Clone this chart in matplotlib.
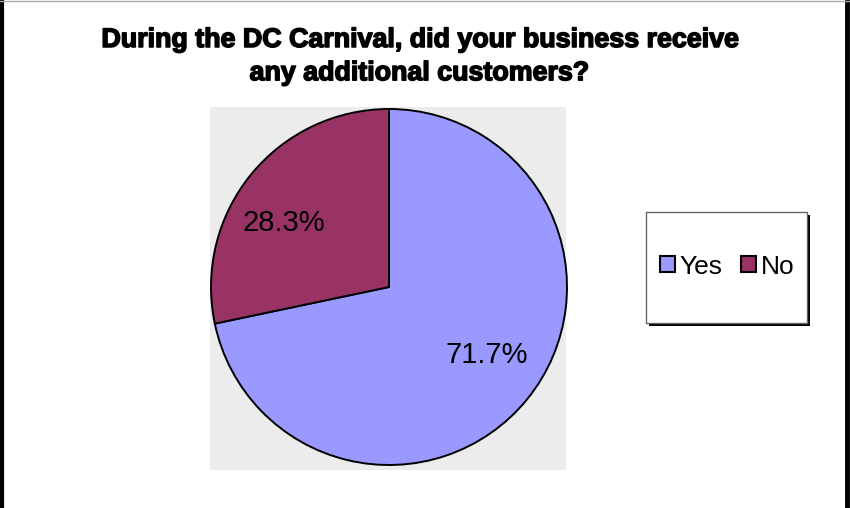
import matplotlib
matplotlib.use("Agg")
import numpy as np
import matplotlib.pyplot as plt
from matplotlib.patches import Rectangle, Patch
from matplotlib.lines import Line2D
import matplotlib.patheffects as pe

categories = ["Yes", "No"]
values = [71.7, 28.3]
colors = ["#9999FF", "#993366"]
title = "During the DC Carnival, did your business receive\nany additional customers?"

W, H = 850, 508
fig = plt.figure(figsize=(W / 100, H / 100), dpi=100)
fig.patch.set_facecolor("white")
plt.rcParams["font.family"] = ["Liberation Sans", "DejaVu Sans"]

def fx(px):
    return px / W

def fy(py):
    return 1 - py / H

# plot area (grey)
left, right, top, bottom = 210, 566, 107, 470
ax = fig.add_axes([fx(left), fy(bottom), (right - left) / W, (bottom - top) / H])
ax.set_facecolor("#ECECEC")
for s in ax.spines.values():
    s.set_visible(False)

cx, cy, r = 389, 287, 178
wedges, texts, autotexts = ax.pie(
    values, colors=colors, startangle=90, counterclock=False,
    autopct="%1.1f%%", pctdistance=0.68,
    wedgeprops=dict(edgecolor="black", linewidth=1.4),
    textprops=dict(fontsize=21, color="black"),
    frame=True,
)
# Excel-style label placement: slightly rotated from the wedge middle
for w, t in zip(wedges, autotexts):
    ang = np.deg2rad((w.theta1 + w.theta2) / 2 + 6)
    t.set_position((0.68 * np.cos(ang) - 0.02, 0.68 * np.sin(ang) - 0.01))
ax.set_aspect("auto")
ax.set_xlim(-(cx - left) / r, (right - cx) / r)
ax.set_ylim(-(bottom - cy) / r, (cy - top) / r)
ax.set_xticks([]); ax.set_yticks([])

# title
fig.text(fx(419), fy(27), title, ha="center", va="top", fontsize=19.3,
         fontweight="bold", linespacing=1.36,
         path_effects=[pe.withStroke(linewidth=1.1, foreground="black")])

# legend box with shadow
lx0, ly0, lx1, ly1 = 646, 212, 807, 323
fig.add_artist(Rectangle((fx(lx0 + 3), fy(ly1 + 3)), (lx1 - lx0) / W, (ly1 - ly0) / H,
                         transform=fig.transFigure, facecolor="black", edgecolor="none"))
fig.add_artist(Rectangle((fx(lx0), fy(ly1)), (lx1 - lx0) / W, (ly1 - ly0) / H,
                         transform=fig.transFigure, facecolor="white",
                         edgecolor="#666666", linewidth=1))
handles = [Patch(facecolor=c, edgecolor="black", linewidth=1.5) for c in colors]
fig.legend(handles, categories, loc="center",
           bbox_to_anchor=(fx((lx0 + lx1) / 2 + 1), fy((ly0 + ly1) / 2 - 1)),
           ncol=2, frameon=False, fontsize=19, handlelength=0.55, handleheight=0.55,
           handletextpad=0.2, columnspacing=0.7, borderpad=0)

# outer borders
fig.add_artist(Line2D([fx(2), fx(2)], [0, 1], transform=fig.transFigure,
                      color="black", linewidth=3))
fig.add_artist(Line2D([fx(846.5), fx(846.5)], [0, 1], transform=fig.transFigure,
                      color="black", linewidth=3.5))
fig.add_artist(Line2D([0, 1], [fy(0.5), fy(0.5)], transform=fig.transFigure,
                      color="#AAAAAA", linewidth=1))

fig.savefig("out.png", dpi=100, facecolor="white")
